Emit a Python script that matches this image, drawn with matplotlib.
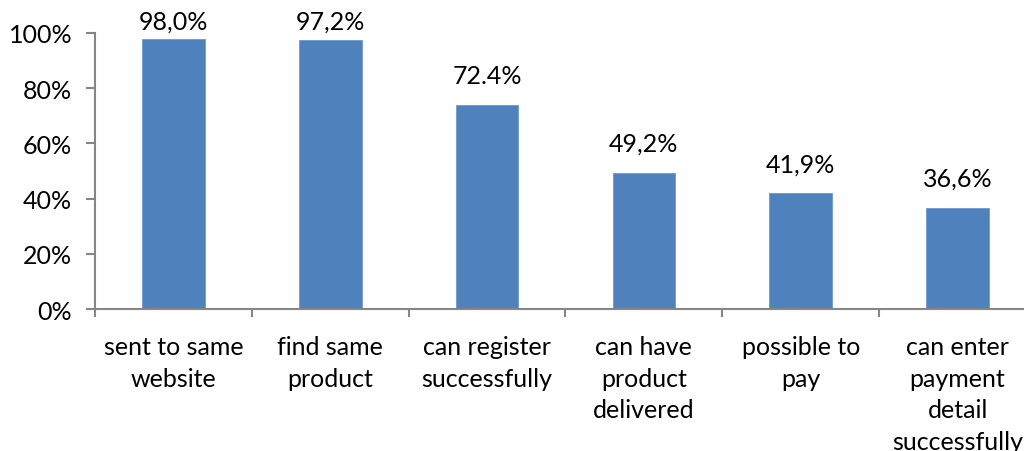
import matplotlib
matplotlib.use("Agg")
import matplotlib.pyplot as plt
import numpy as np

# Donnees
categories = ["sent to same\nwebsite", "find same\nproduct", "can register\nsuccessfully",
              "can have\nproduct\ndelivered", "possible to\npay",
              "can enter\npayment\ndetail\nsuccessfully"]
values = [98.0, 97.3, 73.8, 49.2, 41.9, 36.6]   # bar heights as drawn (%)
value_labels = ["98,0%", "97,2%", "72.4%", "49,2%", "41,9%", "36,6%"]
yticks = [0, 20, 40, 60, 80, 100]

bar_color = "#4F81BD"
axis_color = "#868686"
plt.rcParams["font.family"] = ["Lato", "DejaVu Sans"]
fs = 18

fig = plt.figure(figsize=(10.24, 4.52), dpi=100)
ax = fig.add_axes([95 / 1024, 142 / 452, 941 / 1024, 276 / 452])

x = np.arange(len(categories))
ax.bar(x, values, width=0.4, color=bar_color, edgecolor="#6F98CC", linewidth=0.6, zorder=2)

for xi, v, lab in zip(x, values, value_labels):
    ax.text(xi, min(v + 6.6, 100.0), lab, ha="center", va="bottom",
            fontsize=fs, color="black", clip_on=False)

ax.set_xlim(-0.5, len(categories) - 0.5)
ax.set_ylim(0, 100)
ax.set_yticks(yticks)
ax.set_yticklabels(["{}%".format(t) for t in yticks], fontsize=fs)

ax.set_xticks(x)
ax.set_xticklabels(categories, fontsize=fs, linespacing=1.45)
ax.set_xticks(np.arange(len(categories) + 1) - 0.5, minor=True)
ax.tick_params(axis="x", which="major", length=0, pad=19)
ax.tick_params(axis="x", which="minor", length=6, width=1.5, color=axis_color, direction="out")
ax.tick_params(axis="y", length=6.5, width=1.5, color=axis_color, pad=10)

for s in ["top", "right"]:
    ax.spines[s].set_visible(False)
for s in ["left", "bottom"]:
    ax.spines[s].set_color(axis_color)
    ax.spines[s].set_linewidth(1.5)

fig.savefig("out.png", dpi=100)
